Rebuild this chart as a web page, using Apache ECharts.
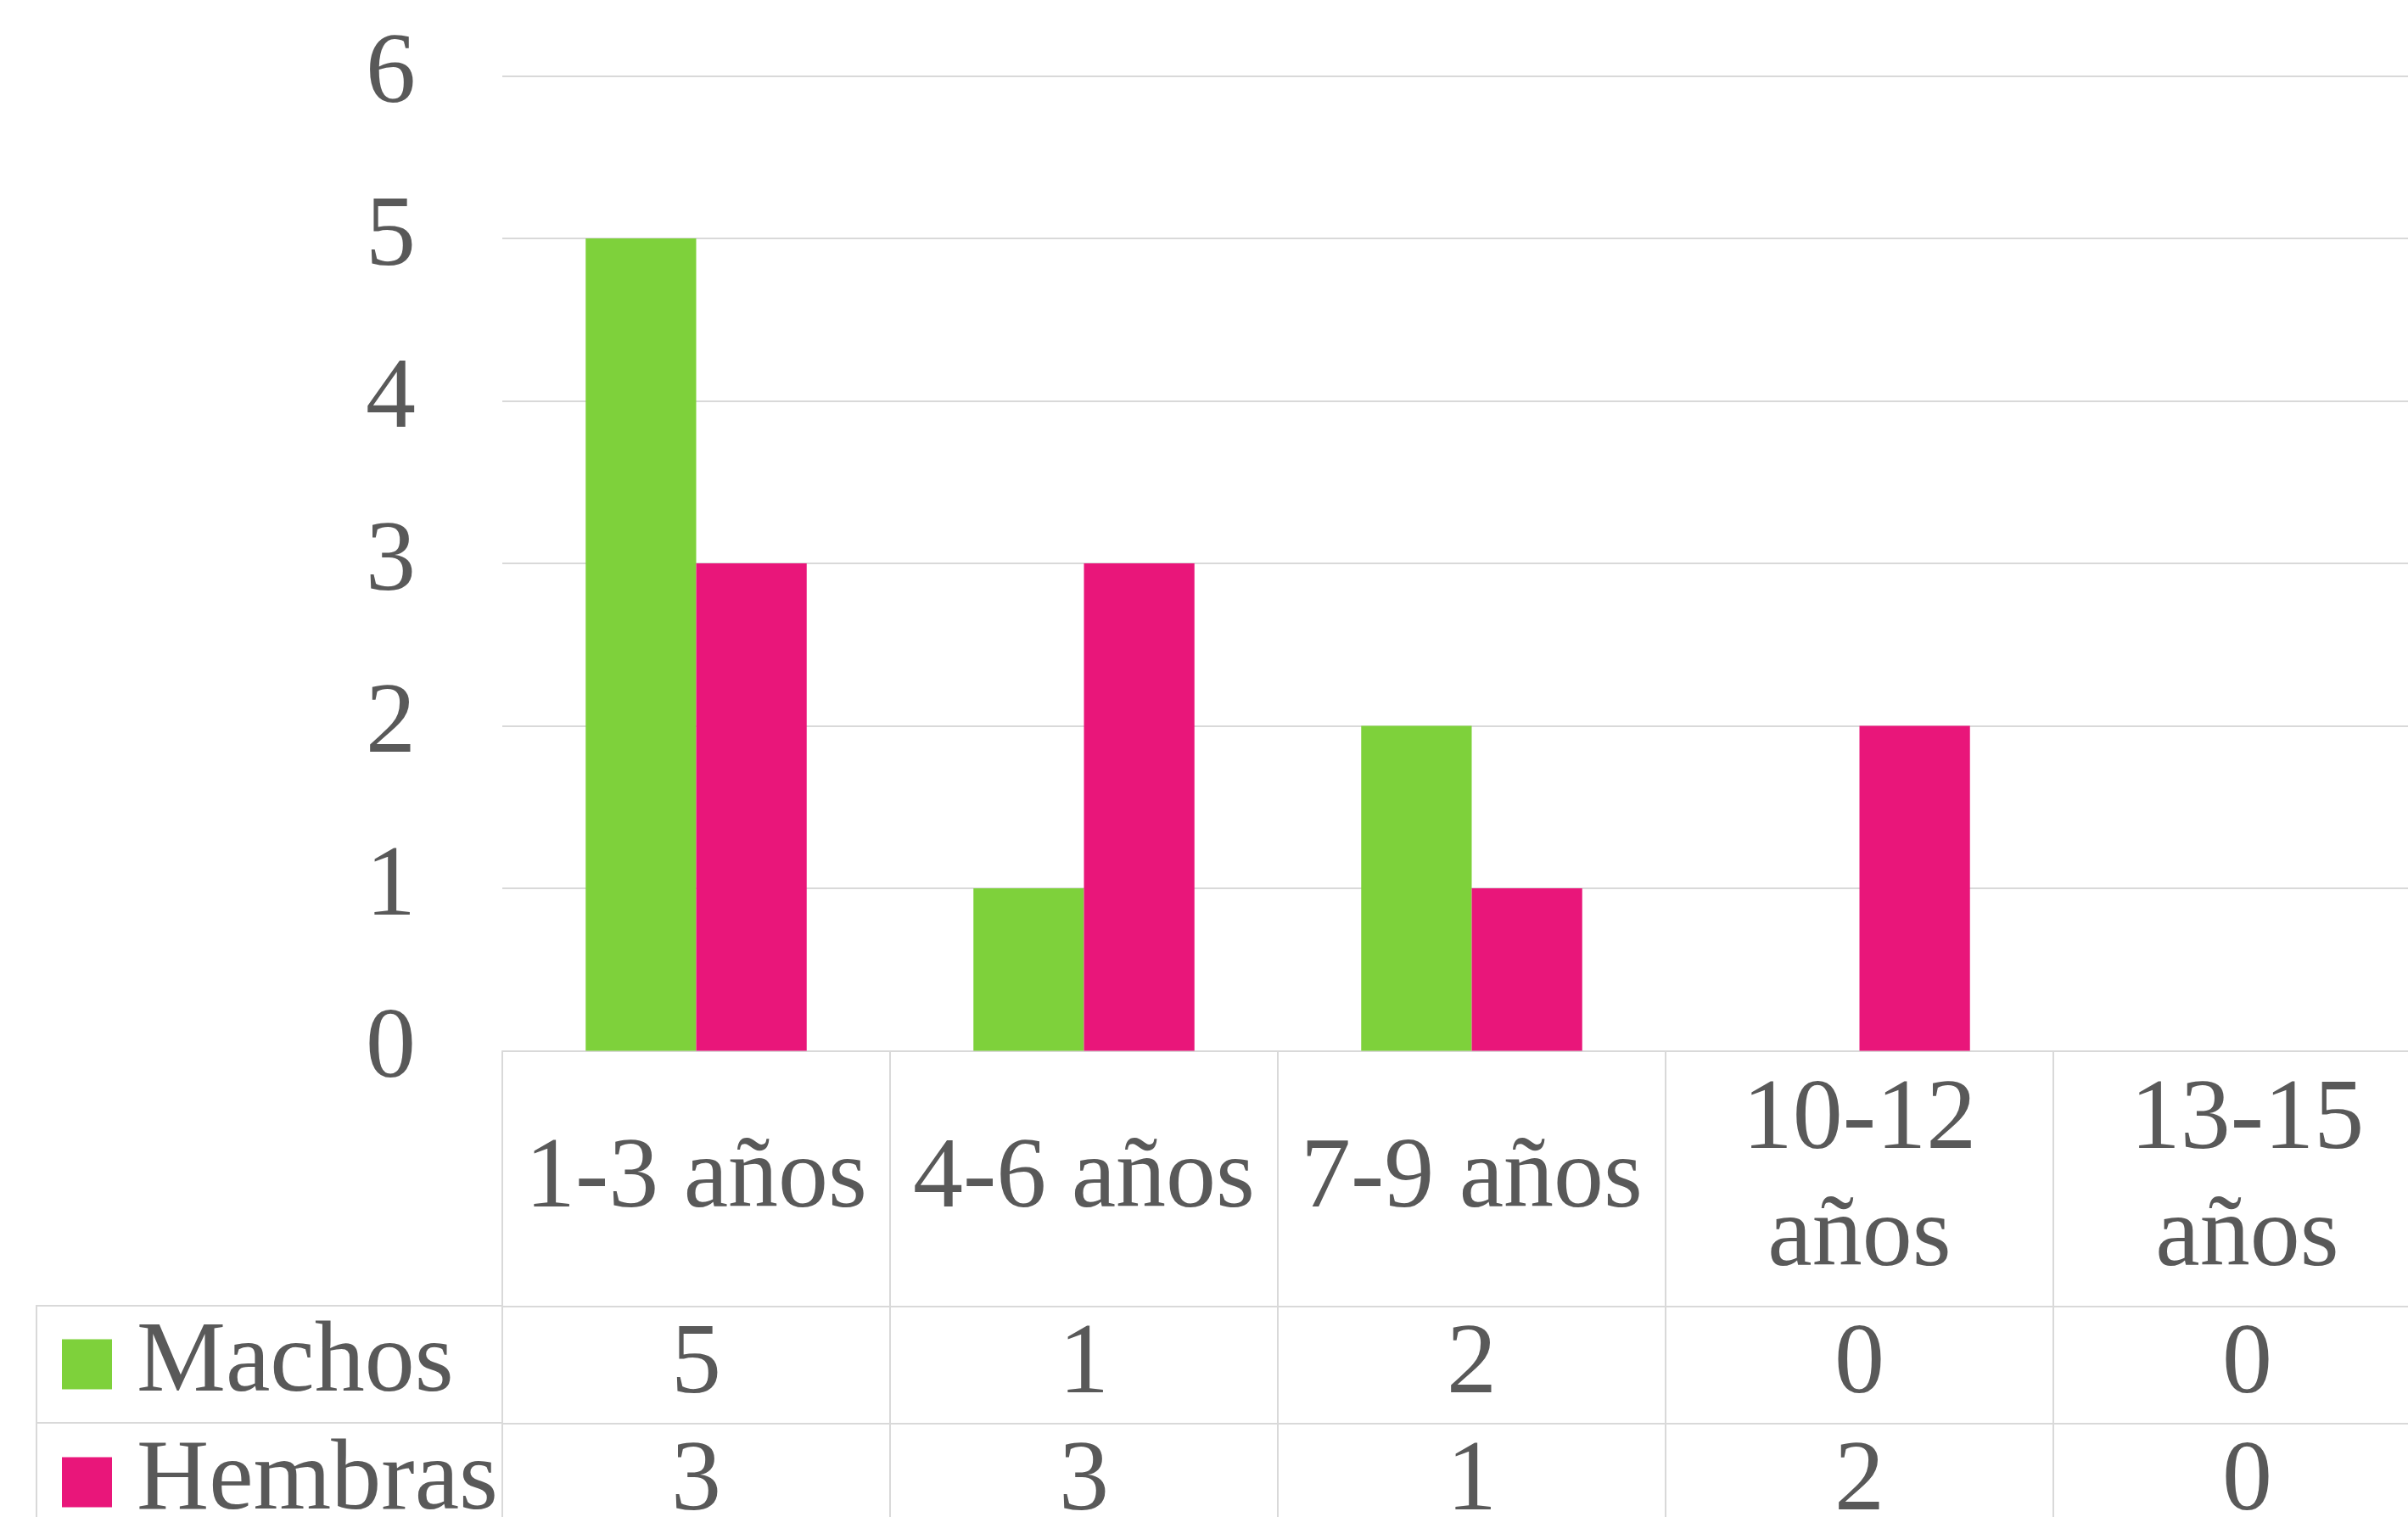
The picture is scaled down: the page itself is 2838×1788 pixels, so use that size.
<!DOCTYPE html>
<html><head><meta charset="utf-8">
<script src="https://cdn.jsdelivr.net/npm/echarts@6/dist/echarts.min.js"></script>
<style>html,body{margin:0;padding:0;background:#fff}#c{width:2838px;height:1788px}</style>
</head><body><div id="c"></div>
<script>
const categories = ['1-3 años', '4-6 años', '7-9 años', '10-12 años', '13-15 años'];
const seriesNames = ['Machos', 'Hembras'];
const machos = [5, 1, 2, 0, 0];
const hembras = [3, 3, 1, 2, 0];
const yTicks = [0, 1, 2, 3, 4, 5, 6];

const FONT = 'Liberation Serif';
const TXT = '#595959';
const LINE = '#d9d9d9';
const GREEN = '#7ED13B';
const PINK = '#E9167A';
const FS = 118;

const chart = echarts.init(document.getElementById('c'), null, {renderer: 'canvas'});

function tableAxis(offset, values, tickLen, margin) {
  return {
    type: 'category', data: categories, gridIndex: 0, position: 'bottom', offset: offset,
    axisLine: {show: true, lineStyle: {color: LINE, width: 2}},
    axisTick: {show: true, length: tickLen, alignWithLabel: false, lineStyle: {color: LINE, width: 2}},
    axisLabel: {
      interval: 0, margin: margin, verticalAlign: 'middle', color: TXT, fontFamily: FONT, fontSize: FS,
      formatter: (v, i) => String(values[i])
    },
    splitLine: {show: false}
  };
}

function legendFor(name, top) {
  return {
    data: [name], left: 73, top: top, orient: 'vertical', icon: 'rect', itemWidth: 59, itemHeight: 59,
    padding: 0, selectedMode: false,
    textStyle: {fontSize: FS, color: TXT, fontFamily: FONT, padding: [0, 0, 0, 24]}
  };
}

chart.setOption({
  animation: false,
  backgroundColor: '#fff',
  grid: {left: 592, top: 89.5, width: 2285, height: 1149, containLabel: false, outerBoundsMode: 'none'},
  legend: [legendFor(seriesNames[0], 1549), legendFor(seriesNames[1], 1688)],
  xAxis: [
    {
      type: 'category', data: categories, position: 'bottom',
      axisLine: {show: true, lineStyle: {color: LINE, width: 2}},
      axisTick: {show: true, length: 301, alignWithLabel: false, lineStyle: {color: LINE, width: 2}},
      axisLabel: {
        interval: 0, margin: 153, verticalAlign: 'middle', color: TXT, fontFamily: FONT, fontSize: FS, lineHeight: 138,
        formatter: v => (v.length > 8 ? v.replace(' ', '\n') : v)
      }
    },
    tableAxis(301, machos, 138, 71),
    tableAxis(439, hembras, 150, 71)
  ],
  yAxis: {
    type: 'value', min: yTicks[0], max: yTicks[yTicks.length - 1], interval: 1,
    axisLine: {show: false}, axisTick: {show: false},
    axisLabel: {margin: 102, color: TXT, fontFamily: FONT, fontSize: FS, padding: [8, 0, 0, 0]},
    splitLine: {show: true, lineStyle: {color: LINE, width: 2}}
  },
  series: [
    {name: seriesNames[0], type: 'bar', data: machos, itemStyle: {color: GREEN}, barGap: '0%', barCategoryGap: '43%'},
    {name: seriesNames[1], type: 'bar', data: hembras, itemStyle: {color: PINK}, barGap: '0%', barCategoryGap: '43%'}
  ],
  graphic: [
    {type: 'line', shape: {x1: 43, y1: 1539, x2: 592, y2: 1539}, style: {stroke: LINE, lineWidth: 2}},
    {type: 'line', shape: {x1: 43, y1: 1677, x2: 592, y2: 1677}, style: {stroke: LINE, lineWidth: 2}},
    {type: 'line', shape: {x1: 43, y1: 1538, x2: 43, y2: 1788}, style: {stroke: LINE, lineWidth: 2}}
  ]
});
</script>
</body></html>
